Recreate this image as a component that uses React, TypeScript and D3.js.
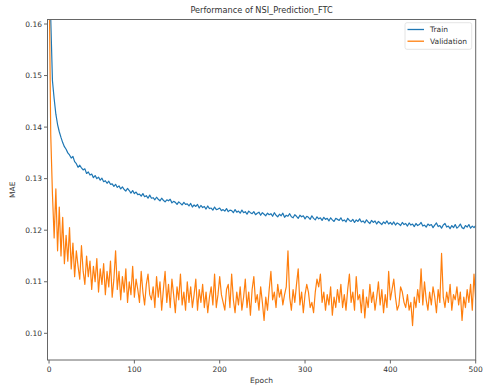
import React from "react";
import * as d3 from "d3";

const TITLE = "Performance of NSI_Prediction_FTC";
const X_LABEL = "Epoch";
const Y_LABEL = "MAE";
const SERIES_NAMES = ["Train", "Validation"];
const EPOCH_STEP = 2;
const X_TICKS = [0, 100, 200, 300, 400, 500];
const Y_TICKS = [0.1, 0.11, 0.12, 0.13, 0.14, 0.15, 0.16];

const trainMAE = [
  0.1900, 0.1610, 0.1490, 0.1455, 0.1425, 0.1405, 0.1391, 0.1380, 0.1370, 0.1362,
  0.1357, 0.1350, 0.1346, 0.1340, 0.1343, 0.1333, 0.1329, 0.1322, 0.1326, 0.1321,
  0.1317, 0.1319, 0.1310, 0.1313, 0.1307, 0.1309, 0.1302, 0.1306, 0.1300, 0.1303,
  0.1297, 0.1301, 0.1294, 0.1296, 0.1291, 0.1295, 0.1289, 0.1290, 0.1285, 0.1289,
  0.1283, 0.1286, 0.1280, 0.1284, 0.1279, 0.1276, 0.1281, 0.1277, 0.1272, 0.1277,
  0.1271, 0.1274, 0.1269, 0.1270, 0.1266, 0.1271, 0.1265, 0.1267, 0.1262, 0.1268,
  0.1262, 0.1263, 0.1259, 0.1264, 0.1260, 0.1257, 0.1262, 0.1258, 0.1255, 0.1259,
  0.1257, 0.1260, 0.1253, 0.1256, 0.1254, 0.1250, 0.1255, 0.1252, 0.1249, 0.1254,
  0.1250, 0.1251, 0.1247, 0.1252, 0.1245, 0.1249, 0.1246, 0.1250, 0.1243, 0.1248,
  0.1244, 0.1246, 0.1241, 0.1247, 0.1242, 0.1243, 0.1239, 0.1245, 0.1240, 0.1241,
  0.1243, 0.1238, 0.1240, 0.1237, 0.1242, 0.1236, 0.1239, 0.1238, 0.1234, 0.1240,
  0.1235, 0.1237, 0.1233, 0.1239, 0.1234, 0.1236, 0.1231, 0.1237, 0.1234, 0.1232,
  0.1236, 0.1230, 0.1233, 0.1235, 0.1229, 0.1234, 0.1231, 0.1228, 0.1233, 0.1230,
  0.1232, 0.1227, 0.1234, 0.1229, 0.1226, 0.1231, 0.1228, 0.1233, 0.1225, 0.1229,
  0.1227, 0.1232, 0.1226, 0.1224, 0.1230, 0.1227, 0.1223, 0.1229, 0.1226, 0.1228,
  0.1222, 0.1227, 0.1225, 0.1221, 0.1228, 0.1223, 0.1220, 0.1226, 0.1222, 0.1224,
  0.1219, 0.1225, 0.1221, 0.1223, 0.1218, 0.1224, 0.1220, 0.1217, 0.1223, 0.1221,
  0.1219, 0.1224, 0.1218, 0.1220, 0.1216, 0.1223, 0.1219, 0.1217, 0.1221, 0.1215,
  0.1220, 0.1217, 0.1222, 0.1216, 0.1218, 0.1214, 0.1220, 0.1216, 0.1213, 0.1219,
  0.1215, 0.1218, 0.1212, 0.1217, 0.1214, 0.1211, 0.1216, 0.1213, 0.1218, 0.1212,
  0.1215, 0.1211, 0.1216, 0.1210, 0.1214, 0.1212, 0.1209, 0.1215, 0.1211, 0.1213,
  0.1208, 0.1214, 0.1210, 0.1212, 0.1207, 0.1213, 0.1209, 0.1211, 0.1215, 0.1208,
  0.1210, 0.1206, 0.1212, 0.1209, 0.1211, 0.1205, 0.1210, 0.1214, 0.1207, 0.1209,
  0.1204, 0.1210, 0.1213, 0.1206, 0.1208, 0.1203, 0.1209, 0.1205, 0.1211, 0.1204,
  0.1207, 0.1212, 0.1205, 0.1203, 0.1209, 0.1206, 0.1211, 0.1204, 0.1208, 0.1205,
  0.1209,
];

const validationMAE = [
  0.1700, 0.1385, 0.1270, 0.1185, 0.1280, 0.1160, 0.1245, 0.1150, 0.1225, 0.1135,
  0.1190, 0.1140, 0.1205, 0.1125, 0.1175, 0.1110, 0.1160, 0.1130, 0.1105, 0.1170,
  0.1120, 0.1095, 0.1150, 0.1110, 0.1140, 0.1085, 0.1130, 0.1100, 0.1145, 0.1080,
  0.1125, 0.1095, 0.1135, 0.1075, 0.1120, 0.1090, 0.1140, 0.1070, 0.1105, 0.1160,
  0.1085, 0.1120, 0.1065, 0.1110, 0.1080, 0.1125, 0.1060, 0.1100, 0.1075, 0.1130,
  0.1070, 0.1105, 0.1085, 0.1060, 0.1120, 0.1080, 0.1055, 0.1095, 0.1115, 0.1075,
  0.1065, 0.1090, 0.1050, 0.1110, 0.1070, 0.1100, 0.1045, 0.1085, 0.1120, 0.1060,
  0.1095, 0.1050, 0.1105, 0.1075, 0.1040, 0.1090, 0.1065, 0.1115, 0.1055, 0.1080,
  0.1045, 0.1100, 0.1060, 0.1090, 0.1050, 0.1075, 0.1105, 0.1045, 0.1085, 0.1060,
  0.1095, 0.1050, 0.1080, 0.1040, 0.1070, 0.1090, 0.1055, 0.1115, 0.1050, 0.1075,
  0.1110, 0.1075, 0.1060, 0.1045, 0.1085, 0.1095, 0.1050, 0.1115, 0.1065, 0.1040,
  0.1080, 0.1055, 0.1090, 0.1045, 0.1070, 0.1105, 0.1050, 0.1080, 0.1035, 0.1085,
  0.1110, 0.1060, 0.1075, 0.1045, 0.1090, 0.1060, 0.1025, 0.1070, 0.1045, 0.1085,
  0.1120, 0.1065, 0.1080, 0.1050, 0.1095, 0.1070, 0.1085, 0.1055, 0.1075, 0.1090,
  0.1160, 0.1070, 0.1045, 0.1085, 0.1060, 0.1095, 0.1125, 0.1055, 0.1080, 0.1040,
  0.1075, 0.1095, 0.1080, 0.1050, 0.1060, 0.1040, 0.1080, 0.1105, 0.1090, 0.1115,
  0.1060, 0.1080, 0.1045, 0.1075, 0.1055, 0.1090, 0.1035, 0.1070, 0.1050, 0.1085,
  0.1060, 0.1095, 0.1050, 0.1075, 0.1045, 0.1085, 0.1115, 0.1060, 0.1080, 0.1045,
  0.1110, 0.1065, 0.1075, 0.1040, 0.1085, 0.1030, 0.1070, 0.1050, 0.1095, 0.1060,
  0.1080, 0.1045, 0.1070, 0.1100, 0.1055, 0.1085, 0.1040, 0.1075, 0.1050, 0.1120,
  0.1065, 0.1085, 0.1105, 0.1070, 0.1045, 0.1055, 0.1090, 0.1080, 0.1060, 0.1050,
  0.1075, 0.1045, 0.1060, 0.1015, 0.1070, 0.1050, 0.1085, 0.1060, 0.1125, 0.1055,
  0.1100, 0.1065, 0.1045, 0.1080, 0.1055, 0.1090, 0.1070, 0.1040, 0.1085, 0.1060,
  0.1155, 0.1070, 0.1050, 0.1080, 0.1060, 0.1095, 0.1045, 0.1075, 0.1065, 0.1090,
  0.1055, 0.1080, 0.1025, 0.1070, 0.1050, 0.1085, 0.1060, 0.1095, 0.1045, 0.1115,
  0.1065,
];

const COLORS = ["#1f77b4", "#ff7f0e"];
const FONT = "'DejaVu Sans', sans-serif";

export default function App() {
  const W = 484, H = 388;
  const left = 47.5, right = 475.7, top = 19.5, bottom = 360;
  const x = d3.scaleLinear().domain([-1.8, 500]).range([left, right]);
  const y = d3.scaleLinear().domain([0.094821, 0.160873]).range([bottom, top]);
  const series = [trainMAE, validationMAE];
  const line = d3
    .line<number>()
    .x((_, i) => x(i * EPOCH_STEP))
    .y((d) => y(d));
  const axisColor = "#666";
  const textColor = "#333";

  return (
    <svg
      width={W}
      height={H}
      style={{ position: "absolute", left: 0, top: 0, background: "#fff" }}
      fontFamily={FONT}
    >
      <rect x={0} y={0} width={W} height={H} fill="#fff" />
      <defs>
        <clipPath id="plotclip">
          <rect x={left} y={top} width={right - left} height={bottom - top} />
        </clipPath>
      </defs>
      <g clipPath="url(#plotclip)">
        {series.map((s, k) => (
          <path key={k} d={line(s) || ""} fill="none" stroke={COLORS[k]} strokeWidth={1.2} strokeLinejoin="round" />
        ))}
      </g>
      <rect x={left} y={top} width={right - left} height={bottom - top} fill="none" stroke={axisColor} strokeWidth={1} />
      {X_TICKS.map((t) => (
        <g key={"x" + t}>
          <line x1={x(t)} x2={x(t)} y1={bottom} y2={bottom + 3.5} stroke={axisColor} />
          <text x={x(t)} y={bottom + 12} fontSize={7.5} textAnchor="middle" fill={textColor}>
            {t}
          </text>
        </g>
      ))}
      {Y_TICKS.map((t) => (
        <g key={"y" + t}>
          <line x1={left - 3.5} x2={left} y1={y(t)} y2={y(t)} stroke={axisColor} />
          <text x={left - 5.5} y={y(t)} dy="0.35em" fontSize={7.5} textAnchor="end" fill={textColor}>
            {t.toFixed(2)}
          </text>
        </g>
      ))}
      <text x={(left + right) / 2} y={13} fontSize={8.2} textAnchor="middle" fill={textColor}>
        {TITLE}
      </text>
      <text x={(left + right) / 2} y={383} fontSize={7.5} textAnchor="middle" fill={textColor}>
        {X_LABEL}
      </text>
      <text
        transform={`translate(15,${(top + bottom) / 2}) rotate(-90)`}
        fontSize={7.5}
        textAnchor="middle"
        fill={textColor}
      >
        {Y_LABEL}
      </text>
      <g>
        <rect x={405} y={22.7} width={66.7} height={26.6} rx={2} fill="#fff" fillOpacity={0.8} stroke="#ddd" strokeWidth={0.8} />
        {SERIES_NAMES.map((n, k) => (
          <g key={n}>
            <line x1={407.5} x2={424} y1={29.5 + k * 11.7} y2={29.5 + k * 11.7} stroke={COLORS[k]} strokeWidth={1.3} />
            <text x={430} y={29.5 + k * 11.7} dy="0.35em" fontSize={7.5} fill={textColor}>
              {n}
            </text>
          </g>
        ))}
      </g>
    </svg>
  );
}
